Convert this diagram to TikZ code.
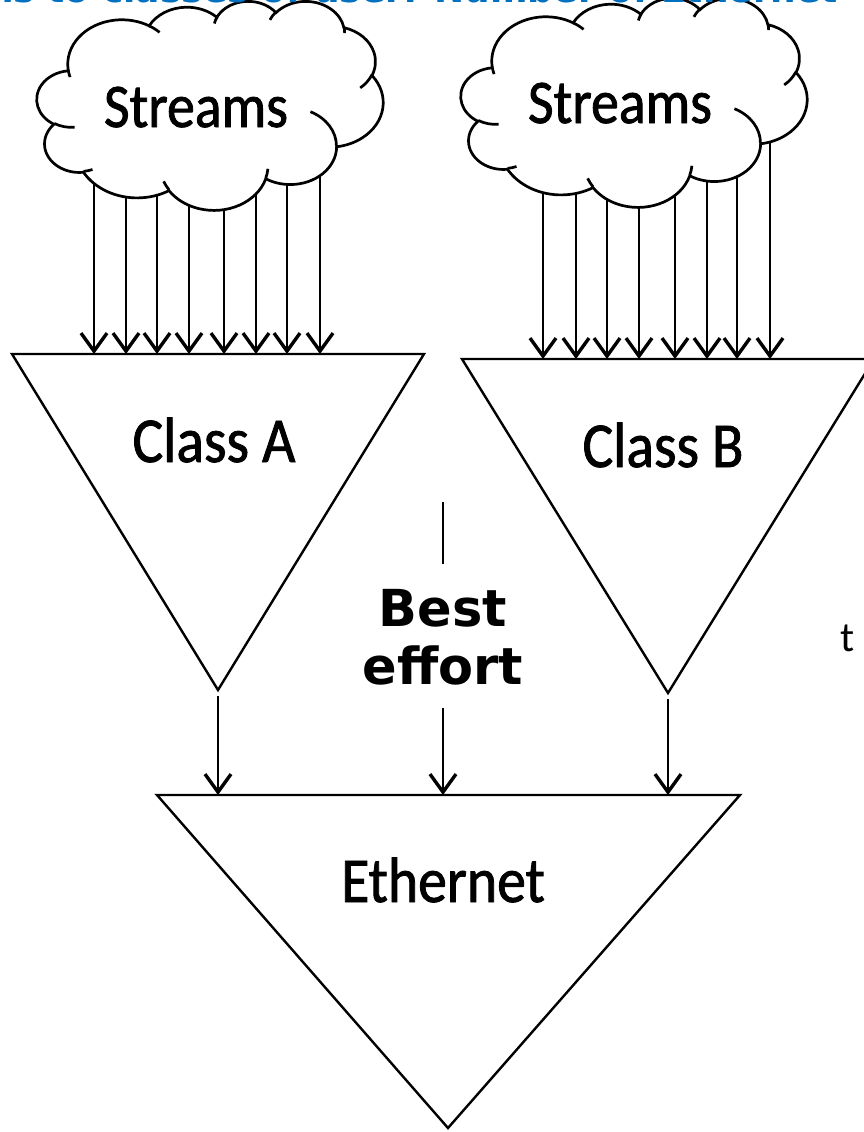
\documentclass[tikz,border=0pt]{standalone}
\usepackage{fontspec}
\usetikzlibrary{arrows.meta}
\newfontfamily\labfont[FakeStretch=0.9,FakeBold=1.3]{Carlito}
\newfontfamily\bestfont{DejaVu Sans}
\newfontfamily\tfont{Carlito}
\definecolor{titleblue}{RGB}{0,112,192}
\newcommand\cwd{0.008009pt}
\newcommand\cht{0.004844pt}
\newcommand\carc[4]{arc[x radius={#1*\cwd}, y radius={#2*\cht}, start angle={-atan2(#1*sin(#3),#2*cos(#3))}, delta angle={-mod(atan2(#1*sin(#3+#4),#2*cos(#3+#4))-atan2(#1*sin(#3),#2*cos(#3))+720,360)}]}
\newcommand\cloudshape{%
  \filldraw[cloudline] (3900,14370) \carc{6753}{9190}{-190.4875}{123.7805} \carc{5333}{7267}{-144.1024}{89.9452} \carc{4365}{5945}{-145.8079}{99.7230} \carc{4857}{6595}{-130.9861}{117.2417} \carc{5333}{7273}{-78.7089}{109.0269} \carc{6775}{9220}{-46.2673}{130.2690} \carc{5785}{7867}{0.6250}{114.0333} \carc{6752}{9215}{22.4516}{115.1726} \carc{7720}{10543}{66.2426}{75.7110} \carc{4360}{5918}{-274.9421}{146.7356} \carc{4345}{5945}{-246.8285}{152.5189} -- cycle;
  \draw[cloudline] (4693,26177) \carc{4345}{5945}{86.742}{26.430}
    (6928,34899) \carc{4360}{5918}{73.610}{11.447}
    (16478,39090) \carc{6752}{9215}{137.624}{14.081}
    (28827,34751) \carc{6752}{9215}{6.453}{15.998}
    (34129,22954) \carc{5785}{7867}{-70.292}{70.917}
    (41798,15354) \carc{5333}{7273}{30.318}{27.752}
    (38324,5426) \carc{4857}{6595}{-13.744}{14.855}
    (29078,3952) \carc{4857}{6595}{-149.181}{18.196}
    (22141,4720) \carc{4365}{5945}{-163.494}{17.691}
    (14000,5192) \carc{6753}{9190}{-66.707}{12.319}
    (4127,15789) \carc{6753}{9190}{157.654}{11.858};}
\tikzset{
  cloudline/.style={line width=2.7pt, fill=white, draw=black},
  tri/.style={line width=2.4pt, line join=miter},
  arr/.style={line width=2.2pt, -{Straight Barb[length=18pt,width=26pt,line width=3.4pt]}},
  plain/.style={line width=2.2pt},
  lab/.style={font=\labfont\fontsize{62}{62}\selectfont, anchor=base, inner sep=0pt},
  biglab/.style={font=\labfont\fontsize{64}{64}\selectfont, anchor=base, inner sep=0pt},
}
\begin{document}
\begin{tikzpicture}[x=1pt,y=-1pt]
\useasboundingbox (0,0) rectangle (864,1132);
\clip (0,0) rectangle (864,1132);
\fill[white] (0,0) rectangle (864,1132);
% anchor points
\coordinate (cA) at (207,120);
\coordinate (cB) at (656,120);
\coordinate (A1) at (12,354); \coordinate (A2) at (424,354); \coordinate (A3) at (218,690);
\coordinate (B1) at (462,359); \coordinate (B2) at (874,359); \coordinate (B3) at (668,693);
\coordinate (E1) at (157,795); \coordinate (E2) at (740,795); \coordinate (E3) at (448,1128);
\coordinate (be1) at (443,502); \coordinate (be2) at (443,564); \coordinate (be3) at (443,708);
% stream arrows (drawn first, clouds cover their starts)
\foreach \x in {94,126,157,189,224,256,287,320}
  \draw[arr] (\x,0 |- cA) -- (\x,0 |- A1);
\foreach \x in {543,576,607,639,675,707,737,770}
  \draw[arr] (\x,0 |- cB) -- (\x,0 |- B1);
% clouds
\begin{scope}[shift={(37,0.7)}, x=\cwd, y=-\cht]
  \cloudshape
\end{scope}
\begin{scope}[shift={(461,-2.3)}, x=\cwd, y=-\cht]
  \cloudshape
\end{scope}
% triangles
\draw[tri] (A1) -- (A2) -- (A3) -- cycle;
\draw[tri] (B1) -- (B2) -- (B3) -- cycle;
\draw[tri] (E1) -- (E2) -- (E3) -- cycle;
% lower connectors
\draw[arr] ([yshift=-6pt]A3) -- (A3 |- E1);
\draw[arr] ([yshift=-6pt]B3) -- (B3 |- E1);
\draw[plain] (be1) -- (be2);
\draw[arr] (be3) -- (be3 |- E1);
% labels
\node[lab] (sA) at (196,127) {Streams};
\node[lab] (sB) at (620,123) {Streams};
\node[biglab] (clA) at (214,462) {Class A};
\node[biglab] (clB) at (663,467) {Class B};
\node[biglab] (eth) at (443,902) {Ethernet};
\node[font=\bestfont\bfseries\fontsize{51}{58}\selectfont, align=center, inner sep=0pt, text depth=0pt] (be) at (443,637) {Best\\effort};
\node[font=\tfont\fontsize{42}{42}\selectfont, anchor=base, inner sep=0pt] (tt) at (848,651) {t};
\node[anchor=base west, font=\bestfont\bfseries\fontsize{36}{36}\selectfont, text=titleblue, inner sep=0pt] (title) at (-12,3) {ns to classes of user: Number of Ethernet};
\end{tikzpicture}
\end{document}
